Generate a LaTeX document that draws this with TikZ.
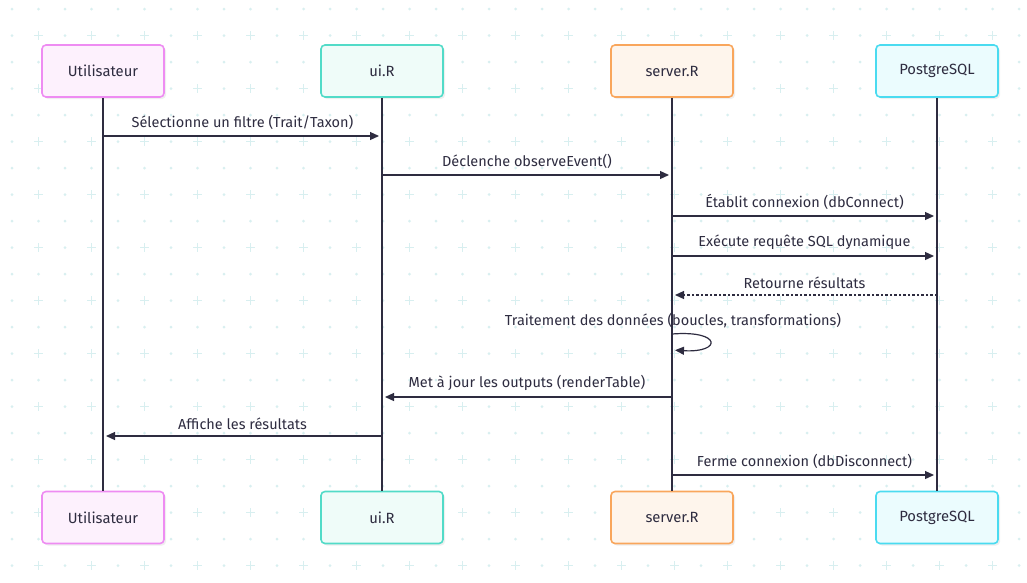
\documentclass[tikz,border=0pt]{standalone}
\usepackage{fontspec}
\setmainfont{Fira Sans}
\usetikzlibrary{arrows.meta,shadows}
\definecolor{ink}{HTML}{2E2C40}
\definecolor{grid}{HTML}{D8EFF0}
\definecolor{uB}{HTML}{EE8CF2}\definecolor{uF}{HTML}{FDF1FD}
\definecolor{iB}{HTML}{52DBC8}\definecolor{iF}{HTML}{EFFCF9}
\definecolor{sB}{HTML}{F9A65C}\definecolor{sF}{HTML}{FEF5EC}
\definecolor{pB}{HTML}{4ADBF0}\definecolor{pF}{HTML}{EBFCFE}
\tikzset{
  actor/.style={draw=#1B, fill=#1F, line width=1.6pt, rounded corners=4pt,
    minimum width=122pt, minimum height=52pt, inner sep=0pt,
    font=\fontsize{14.8}{16}\selectfont, text=ink,
    drop shadow={shadow xshift=2pt, shadow yshift=-2pt, fill=black!12}},
  life/.style={draw=ink, line width=1.3pt},
  msg/.style={draw=ink, line width=1.2pt, -{Triangle[length=9pt,width=8pt]}, shorten >=3pt},
  ret/.style={msg, dash pattern=on 2.5pt off 2pt},
  lbl/.style={font=\fontsize{14.5}{16}\selectfont, text=ink, inner sep=0pt}
}
\begin{document}
\begin{tikzpicture}[x=1pt,y=-1pt]
\useasboundingbox (0,0) rectangle (1027,582);
\fill[white] (0,0) rectangle (1027,582);
% background grid
\foreach \j in {0,...,21}{
  \foreach \k in {0,...,38}{
    \pgfmathsetmacro{\xx}{12+26.5*\k}
    \pgfmathsetmacro{\yy}{9+26.5*\j}
    \pgfmathtruncatemacro{\pl}{(mod(\j,2)==1) && (mod(\k,2)==1)}
    \ifnum\pl=1
      \draw[grid, line width=1.8pt] (\xx-4.5,\yy) -- (\xx+4.5,\yy) (\xx,\yy-4.5) -- (\xx,\yy+4.5);
    \else
      \fill[grid] (\xx,\yy) circle (1.5);
    \fi
  }
}
% actors
\node[actor=u] (uT) at (103,71) {Utilisateur};
\node[actor=i] (iT) at (382,71) {ui.R};
\node[actor=s] (sT) at (672,71) {server.R};
\node[actor=p] (pT) at (937,71) {PostgreSQL};
\node[actor=u] (uB) at (103,517.5) {Utilisateur};
\node[actor=i] (iB) at (382,517.5) {ui.R};
\node[actor=s] (sB) at (672,517.5) {server.R};
\node[actor=p] (pB) at (937,517.5) {PostgreSQL};
% lifelines
\draw[life] (uT.south) -- (uB.north);
\draw[life] (iT.south) -- (iB.north);
\draw[life] (sT.south) -- (sB.north);
\draw[life] (pT.south) -- (pB.north);
% message end points
\coordinate (u1) at (103,136); \coordinate (i1) at (382,136);
\coordinate (i2) at (382,175); \coordinate (s2) at (672,175);
\coordinate (s3) at (672,216); \coordinate (p3) at (937,216);
\coordinate (s4) at (672,256); \coordinate (p4) at (937,256);
\coordinate (p5) at (937,295); \coordinate (s5) at (672,295);
\coordinate (s6a) at (672,334); \coordinate (s6b) at (672,350);
\coordinate (s7) at (672,397); \coordinate (i7) at (382,397);
\coordinate (i8) at (382,436); \coordinate (u8) at (103,436);
\coordinate (s9) at (672,475); \coordinate (p9) at (937,475);
% messages
\draw[msg] (u1) -- node[lbl, above=6pt] (m1) {Sélectionne un filtre (Trait/Taxon)} (i1);
\draw[msg] (i2) -- node[lbl, above=6pt] (m2) {Déclenche observeEvent()} (s2);
\draw[msg] (s3) -- node[lbl, above=6pt] (m3) {Établit connexion (dbConnect)} (p3);
\draw[msg] (s4) -- node[lbl, above=6pt] (m4) {Exécute requête SQL dynamique} (p4);
\draw[ret] (p5) -- node[lbl, above=6pt] (m5) {Retourne résultats} (s5);
\node[lbl] (m6) at (673,321) {Traitement des données (boucles, transformations)};
\draw[msg] (s6a) .. controls (722,330) and (722,353) .. (s6b);
\draw[msg] (s7) -- node[lbl, above=6pt] (m7) {Met à jour les outputs (renderTable)} (i7);
\draw[msg] (i8) -- node[lbl, above=6pt] (m8) {Affiche les résultats} (u8);
\draw[msg] (s9) -- node[lbl, above=6pt] (m9) {Ferme connexion (dbDisconnect)} (p9);
\end{tikzpicture}
\end{document}
